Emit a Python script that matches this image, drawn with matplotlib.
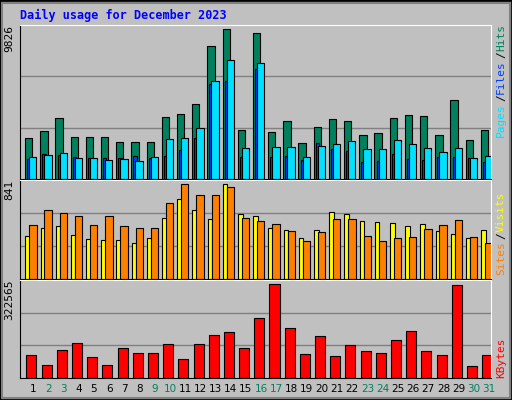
# daily usage chart, webalizer style
import numpy as np
import matplotlib
matplotlib.use('Agg')
import matplotlib.pyplot as plt
from matplotlib.patches import Rectangle

days = list(range(1, 32))
weekend_days = [2, 3, 9, 10, 16, 17, 23, 24, 30, 31]

hits = [2690, 3157, 4024, 2757, 2757, 2757, 2423, 2423, 2423, 4090, 4290, 4957, 8759, 9826, 3223, 9626,
        3090, 3824, 2356, 3423, 3957, 3824, 2890, 3023, 4024, 4224, 4157, 2890, 5224, 2557, 3223]
files = [1289, 1623, 1556, 1423, 1356, 1356, 1356, 1489, 1356, 1489, 1890, 2690, 6224, 6425, 1423, 7225,
         1423, 1489, 1223, 2356, 1956, 1823, 1089, 1156, 1623, 1289, 1223, 1423, 1423, 1356, 1089]
pages = [1423, 1556, 1690, 1356, 1356, 1223, 1289, 1156, 1423, 2623, 2690, 3357, 6425, 7825, 2023, 7625,
         2090, 2090, 1423, 2156, 2290, 2490, 1956, 1956, 2557, 2290, 2023, 1756, 2023, 1356, 1489]
visits = [386, 458, 468, 395, 358, 349, 349, 322, 367, 540, 713, 613, 531, 841, 577, 559,
          458, 440, 367, 440, 595, 577, 513, 504, 495, 468, 486, 431, 404, 367, 440]
sites = [477, 613, 586, 559, 477, 559, 468, 458, 458, 677, 841, 750, 750, 814, 540, 513,
         486, 431, 340, 422, 531, 531, 386, 340, 367, 376, 449, 477, 522, 376, 322]
kbytes = [78872, 43556, 96530, 121252, 71808, 43556, 103594, 85936, 85936, 117720, 64746, 117720,
          149504, 160099, 103594, 206010, 322565, 170694, 82404, 145973, 75341, 114188, 92999, 85936,
          131846, 163631, 92999, 78872, 319021, 40025, 78872]

BG = '#C0C0C0'
W, H = 512, 400
fig = plt.figure(figsize=(W / 100, H / 100), dpi=100, facecolor=BG)

# 3d-ish frame
fig.patches.append(Rectangle((0, 0), 1, 1, transform=fig.transFigure, fill=False,
                             edgecolor='black', linewidth=2))
fig.patches.append(Rectangle((2 / W, 2 / H), 1 - 4 / W, 1 - 5 / H, transform=fig.transFigure,
                             fill=False, edgecolor='#808080', linewidth=1.5))

fig.text(20 / W, 1 - 15 / H, 'Daily usage for December 2023', color='#0000FF',
         family='DejaVu Sans Mono', weight='bold', fontsize=8.5, va='center')

x = np.arange(31)
left, right = 20, 491


def panel(top, bottom):
    ax = fig.add_axes([left / W, 1 - bottom / H, (right - left) / W, (bottom - top) / H])
    ax.set_facecolor(BG)
    ax.set_xlim(0, 31)
    ax.set_xticks([])
    ax.set_yticks([])
    for s in ax.spines.values():
        s.set_color('black')
    ax.spines['right'].set_color('white')
    ax.spines['top'].set_color('white')
    return ax


def grid(ax, top):
    ax.set_ylim(0, top)
    for f in (1 / 3, 2 / 3):
        ax.axhline(top * f, color='#808080', lw=1, zorder=0)


kw = dict(align='edge', edgecolor='black', linewidth=0.8, zorder=2)

# top panel
ax1 = panel(25, 179)
grid(ax1, max(hits) * 1.03)
ax1.bar(x + 0.33, hits, 0.48, color='#00805C', **kw)
ax1.bar(x + 0.47, files, 0.22, color='#0040FF', **kw)
ax1.bar(x + 0.6, pages, 0.48, color='#00E0FF', **kw)
ax1.text(-0.012, 1.0, str(max(hits)), transform=ax1.transAxes, rotation=90,
         ha='right', va='top', fontsize=8, family='DejaVu Sans Mono')

# middle panel
ax2 = panel(180, 279)
grid(ax2, max(sites) * 1.047)
ax2.bar(x + 0.35, visits, 0.3, color='#FFFF00', **kw)
ax2.bar(x + 0.61, sites, 0.48, color='#FF8000', **kw)
ax2.text(-0.012, 1.0, str(max(sites)), transform=ax2.transAxes, rotation=90,
         ha='right', va='top', fontsize=8, family='DejaVu Sans Mono')

# bottom panel
ax3 = panel(280, 378)
grid(ax3, max(kbytes) * 1.047)
ax3.bar(x + 0.42, kbytes, 0.66, color='#FF0000', **kw)
ax3.text(-0.012, 1.0, str(max(kbytes)), transform=ax3.transAxes, rotation=90,
         ha='right', va='top', fontsize=8, family='DejaVu Sans Mono')

for i, d in enumerate(days):
    xp = (left + (i + 0.87) * (right - left) / 31) / W
    fig.text(xp, 1 - 389 / H, str(d), ha='center', va='center', fontsize=7.5,
             color='#00805C' if d in weekend_days else 'black')

# right side legends
mono = dict(rotation=90, family='DejaVu Sans Mono', fontsize=8, ha='center', va='bottom')
xr = 501 / W


def stacked(y0, parts):
    y = 1 - y0 / H
    for txt, col in parts:
        t = fig.text(xr, y, txt, color=col, **mono)
        y += len(txt) * 7.2 / H


stacked(137, [('Pages', '#00E0FF'), ('/', 'black'), ('Files', '#0040FF'), ('/', 'black'), ('Hits', '#00805C')])
stacked(275, [('Sites', '#FF8000'), ('/', 'black'), ('Visits', '#FFFF00')])
stacked(378, [('KBytes', '#FF0000')])

fig.savefig('out.png', dpi=100, facecolor=BG)
